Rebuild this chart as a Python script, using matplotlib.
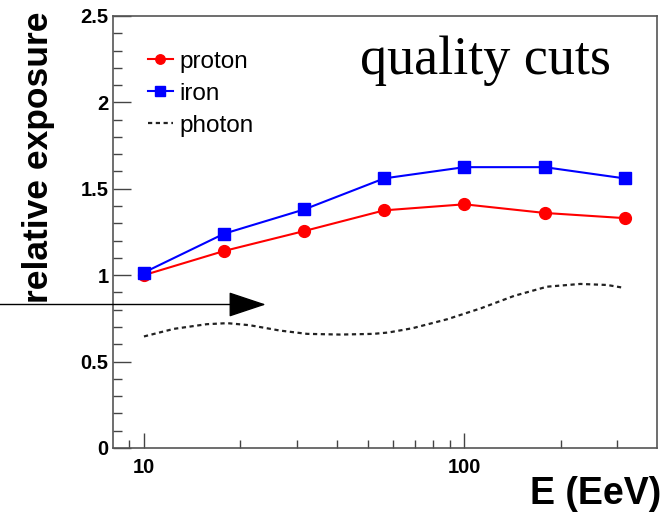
import matplotlib
matplotlib.use('Agg')
import matplotlib.pyplot as plt
from matplotlib.ticker import FixedLocator, NullFormatter, MultipleLocator

# energies of the simulated points (EeV), quarter-decade steps
energy = [10, 17.8, 31.6, 56.2, 100, 178, 316]
proton = [1.00, 1.14, 1.255, 1.375, 1.41, 1.36, 1.33]
iron = [1.015, 1.24, 1.38, 1.56, 1.625, 1.625, 1.56]

# photon curve
photon_energy = [10, 12.4, 15.7, 18.2, 21.4, 26.6, 32.3, 41, 52, 58, 69,
                 88.5, 112.6, 143, 181, 230, 279, 311]
photon = [0.645, 0.689, 0.716, 0.722, 0.710, 0.679, 0.660, 0.656, 0.660,
          0.668, 0.693, 0.745, 0.808, 0.880, 0.933, 0.949, 0.943, 0.928]

x_major = [10, 100]
x_minor = [9, 20, 30, 40, 50, 60, 70, 80, 90, 200, 300]
y_major = [0, 0.5, 1, 1.5, 2, 2.5]
y_labels = ['0', '0.5', '1', '1.5', '2', '2.5']

plt.rcParams['font.family'] = ['Liberation Sans', 'DejaVu Sans']

fig = plt.figure(figsize=(6.68, 5.16), dpi=100)
ax = fig.add_axes([0.169, 0.132, 0.815, 0.837])

ax.plot(photon_energy, photon, color='#222222', lw=1.6,
        linestyle=(0, (1.9, 1.6)), label='photon', zorder=2)
ax.plot(energy, proton, color='#ff0000', lw=1.5, marker='o', ms=8.5,
        label='proton', zorder=3)
ax.plot(energy, iron, color='#0000ff', lw=1.5, marker='s', ms=8.5,
        label='iron', zorder=4)

ax.set_xscale('log')
ax.set_xlim(8, 400)
ax.set_ylim(0, 2.5)

ax.xaxis.set_major_locator(FixedLocator(x_major))
ax.xaxis.set_minor_locator(FixedLocator(x_minor))
ax.xaxis.set_minor_formatter(NullFormatter())
ax.set_xticklabels(['10', '100'])
ax.set_yticks(y_major)
ax.set_yticklabels(y_labels)
ax.yaxis.set_minor_locator(MultipleLocator(0.1))

ax.tick_params(which='both', direction='in', top=False, right=False,
               color='#444444', width=1.0)
ax.tick_params(axis='y', which='major', length=13, pad=3, labelsize=14.5)
ax.tick_params(axis='y', which='minor', length=6.5)
ax.tick_params(axis='x', which='major', length=11, pad=7, labelsize=14.5)
ax.tick_params(axis='x', which='minor', length=5.5)
for lab in ax.get_xticklabels() + ax.get_yticklabels():
    lab.set_fontweight('bold')
for sp in ax.spines.values():
    sp.set_color('#555555')
    sp.set_linewidth(1.2)

# legend: proton, iron, photon
handles, labels = ax.get_legend_handles_labels()
order = [1, 2, 0]
ax.legend([handles[i] for i in order], [labels[i] for i in order],
          loc='upper left', bbox_to_anchor=(0.064, 0.92), frameon=False,
          fontsize=17.5, handlelength=1.05, handletextpad=0.25,
          labelspacing=0.42, borderaxespad=0, borderpad=0, markerscale=0.8)

ax.text(0.915, 0.955, 'quality cuts', transform=ax.transAxes, ha='right',
        va='top', fontsize=39, family='Liberation Serif')

# arrow from the left edge of the figure
ax.annotate('', xy=(24, 0.83), xycoords='data',
            xytext=(-0.21, 0.83), textcoords=('axes fraction', 'data'),
            arrowprops=dict(arrowstyle='-|>,head_length=2.4,head_width=0.8',
                            mutation_scale=10, color='black', lw=1.0,
                            shrinkA=0, shrinkB=0),
            annotation_clip=False)

fig.text(0.058, 0.695, 'relative exposure', rotation=90, ha='center',
         va='center', fontsize=25.5, fontweight='bold')
fig.text(0.99, 0.008, 'E (EeV)', ha='right', va='bottom', fontsize=27,
         fontweight='bold')

fig.savefig('out.png', dpi=100)
